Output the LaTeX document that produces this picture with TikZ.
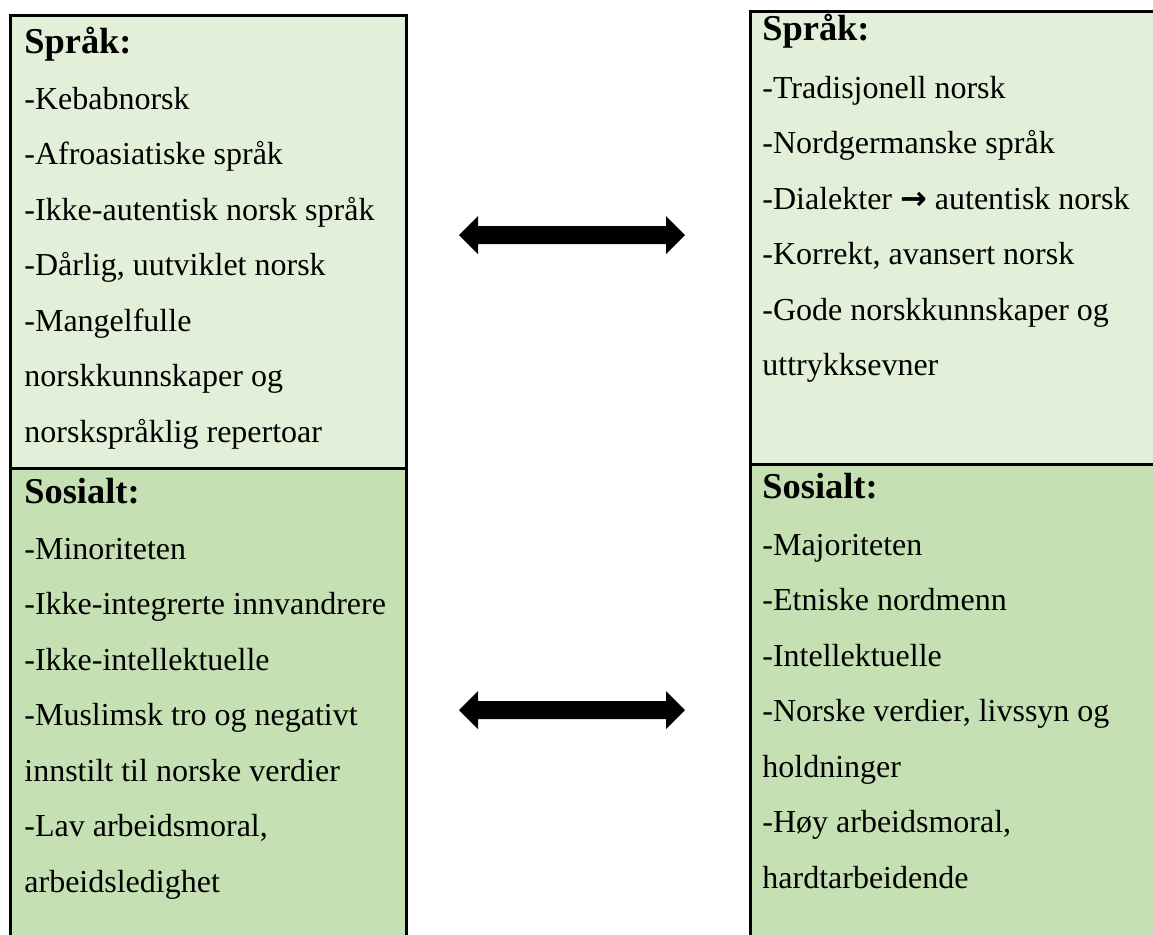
\documentclass[tikz,border=0pt]{standalone}
\usepackage{fontspec}
\usetikzlibrary{calc}
\setmainfont{Liberation Serif}
\newfontfamily\arrowfont{DejaVu Sans}
\definecolor{toplight}{HTML}{E2EFD9}
\definecolor{botgreen}{HTML}{C5E0B3}
\begin{document}
\begin{tikzpicture}[x=0.5pt,y=-0.5pt,
  cellbox/.style={line width=1.5pt,draw=black},
  heading/.style={anchor=base west,inner sep=0pt,font=\fontsize{18.2}{20}\selectfont\bfseries},
  itemtext/.style={anchor=base west,inner sep=0pt,font=\fontsize{16}{18}\selectfont},
  bigarrow/.style={fill=black,draw=none}]
\useasboundingbox (0,0) rectangle (1153,934);
\clip (0,0) rectangle (1153,934);
\fill[white] (0,0) rectangle (1153,934);
% left column
\fill[toplight] (10.5,15) rectangle (406,468);
\fill[botgreen] (10.5,468) rectangle (406,960);
\draw[cellbox] (10.5,960) -- (10.5,15) -- (406,15) -- (406,960);
\draw[cellbox] (10.5,468) -- (406,468);
% right column
\fill[toplight] (750.5,11) rectangle (1170,464);
\fill[botgreen] (750.5,464) rectangle (1170,960);
\draw[cellbox] (750.5,960) -- (750.5,11) -- (1170,11);
\draw[cellbox] (750.5,464) -- (1170,464);
% left texts
\node[heading] (lh1) at (24,53) {Språk:};
\foreach \t [count=\i from 0] in {-Kebabnorsk,-Afroasiatiske språk,-Ikke-autentisk norsk språk,{-Dårlig, uutviklet norsk},-Mangelfulle,norskkunnskaper og,norskspråklig repertoar}
  \node[itemtext] (la\i) at (24,109+55.5*\i) {\t};
\node[heading] (lh2) at (24,503) {Sosialt:};
\foreach \t [count=\i from 0] in {-Minoriteten,-Ikke-integrerte innvandrere,-Ikke-intellektuelle,-Muslimsk tro og negativt,innstilt til norske verdier,{-Lav arbeidsmoral,},arbeidsledighet}
  \node[itemtext] (lb\i) at (24,559+55.5*\i) {\t};
% right texts
\node[heading] (rh1) at (762,40) {Språk:};
\foreach \t [count=\i from 0] in {-Tradisjonell norsk,-Nordgermanske språk,{-Dialekter {\arrowfont\bfseries →} autentisk norsk},{-Korrekt, avansert norsk},-Gode norskkunnskaper og,uttrykksevner}
  \node[itemtext] (ra\i) at (762,98+55.5*\i) {\t};
\node[heading] (rh2) at (762,498) {Sosialt:};
\foreach \t [count=\i from 0] in {-Majoriteten,-Etniske nordmenn,-Intellektuelle,{-Norske verdier, livssyn og},holdninger,{-Høy arbeidsmoral,},hardtarbeidende}
  \node[itemtext] (rb\i) at (762,555+55.5*\i) {\t};
% double arrows
\foreach \y/\n in {235/a,710/b}{
  \coordinate (\n L) at (459,\y);
  \coordinate (\n R) at (685,\y);
  \fill[bigarrow] (\n L) -- ++(19,-19) -- ++(0,10) -- ($(\n R)+(-19,-9)$) -- ++(0,-10) -- (\n R) -- ++(-19,19) -- ++(0,-10) -- ($(\n L)+(19,9)$) -- ++(0,10) -- cycle;
}
\end{tikzpicture}
\end{document}
